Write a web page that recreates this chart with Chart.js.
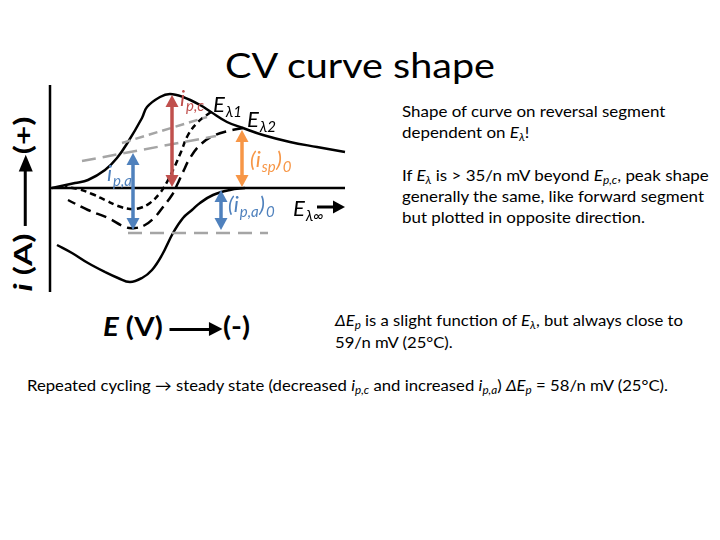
<!DOCTYPE html>
<html><head><meta charset="utf-8">
<script src="https://cdn.jsdelivr.net/npm/chart.js@4/dist/chart.umd.min.js"></script>
<style>
html,body{margin:0;padding:0;background:#fff;}
body{width:720px;height:540px;position:relative;overflow:hidden;font-family:Lato,"Open Sans",sans-serif;color:#000;}
.t{position:absolute;white-space:nowrap;display:inline-block;transform-origin:0 50%;line-height:1;}
sub{font-size:70%;vertical-align:baseline;position:relative;top:0.3em;}
.bm{display:inline-block;width:0;height:0;vertical-align:baseline;}
.arr{display:inline-block;height:3px;background:#000;position:relative;vertical-align:middle;}
.arr::after{content:'';position:absolute;right:-11px;top:-5.5px;border-left:12px solid #000;border-top:7px solid transparent;border-bottom:7px solid transparent;}
#canvasWrap{position:absolute;left:40px;top:75px;width:315px;height:227px;}
</style></head><body>

<div class="t" id="title" style="left:225px;top:45px;font-size:34px;" data-w="270" data-b="78">CV curve shape</div>

<div class="t" id="ylab" style="font-size:24px;font-weight:bold;transform-origin:50% 50%;"><i>i</i> (A) <span class="arr" style="width:40px;margin-right:11px;"></span>(+)</div>

<div class="t" style="left:103px;top:310px;font-size:26px;font-weight:bold;" data-w="147" data-b="336"><i>E</i> (V) <span class="arr" style="width:36px;margin-right:11px;"></span>(-)</div>

<div class="t" style="left:402px;top:100px;font-size:15px;" data-g="r" data-b="117">Shape of curve on reversal segment</div>
<div class="t" style="left:402px;top:120px;font-size:15px;" data-g="r" data-b="138">dependent on <i>E</i><sub><i>λ</i></sub>!</div>
<div class="t" style="left:402px;top:168px;font-size:15px;" data-g="r" data-b="181">If <i>E</i><sub><i>λ</i></sub> is &gt; 35/n mV beyond <i>E</i><sub><i>p,c</i></sub>, peak shape</div>
<div class="t" style="left:402px;top:188px;font-size:15px;" data-g="r" data-w="302" data-b="202">generally the same, like forward segment</div>
<div class="t" style="left:402px;top:208px;font-size:15px;" data-g="r" data-b="223">but plotted in opposite direction.</div>

<div class="t" style="left:335px;top:312px;font-size:15px;" data-g="d" data-w="348" data-b="326"><i>ΔE</i><sub><i>p</i></sub> is a slight function of <i>E</i><sub><i>λ</i></sub>, but always close to</div>
<div class="t" style="left:335px;top:334px;font-size:15px;" data-g="d" data-b="348">59/n mV (25°C).</div>

<div class="t" style="left:27px;top:377px;font-size:15px;" data-w="641" data-b="391">Repeated cycling → steady state (decreased <i>i</i><sub><i>p,c</i></sub> and increased <i>i</i><sub><i>p,a</i></sub>) <i>ΔE</i><sub><i>p</i></sub> = 58/n mV (25°C).</div>

<div id="canvasWrap"><canvas id="c" width="315" height="227"></canvas></div>

<script>
// ---- data (E in arbitrary potential units, i in arbitrary current units) ----
const E_forward = [2, 25, 38, 55, 67, 78, 92, 97, 110, 120, 133, 150, 161, 177, 193, 213, 240, 267, 295];
const i_forward = [0, 5, 8, 18, 30, 46, 70, 81, 91, 94, 91, 83, 76, 66, 60, 53, 46, 41, 36];

const E_rev1 = [161, 148, 138, 131, 124, 117, 110, 100, 90, 80, 68, 55, 42, 28, 15];
const i_rev1 = [76, 66, 53, 36, 20, 6, -5, -15, -20, -21, -18, -12, -6, -1, 1];

const E_rev2 = [193, 178, 163, 150, 140, 133, 127, 122, 113, 105, 95, 85, 75, 58, 38, 18];
const i_rev2 = [60, 57, 52, 43, 30, 16, 3, -7, -19, -29, -37, -40, -39, -30, -22, -12];

const E_revInf = [195, 180, 163, 150, 142, 133, 123, 112, 102, 92, 80, 68, 55, 38, 22, 7];
const i_revInf = [0, -2, -7, -15, -22, -30, -45, -67, -82, -90, -94, -90, -84, -75, -65, -57];

const E_base1 = [72, 157], i_base1 = [45, 71];
const E_base2 = [32, 166], i_base2 = [27, 52];
const E_base3 = [78, 218], i_base3 = [-45, -45];

const E_axisV = [0, 0],   i_axisV = [103, -104];
const E_axisH = [0, 295], i_axisH = [0, 0];

// peak-current arrows: i_p,c , i_p,a , (i_sp)0 , (i_p,a)0
const arrowE    = [122, 83, 192, 171];
const arrowFrom = [1, 35, 1, -2];
const arrowTo   = [93, -42, 58, -42];

// scan direction arrow for E_lambda-infinity
const E_scan = [267, 295], i_scan = [-19, -19];

const pts = (xs, ys) => xs.map((v, k) => ({x: v, y: ys[k]}));

function line(data, color, dash, width, tension) {
  return {data, showLine: true, borderColor: color, borderWidth: width, borderDash: dash,
          pointRadius: 0, fill: false, tension: tension, clip: false, borderCapStyle: 'butt'};
}

function drawArrow(ctx, x1, y1, x2, y2, both, color, lw, hl, hw) {
  const a = Math.atan2(y2 - y1, x2 - x1), c = Math.cos(a), s = Math.sin(a);
  const sx = both ? x1 + c * hl * 0.8 : x1, sy = both ? y1 + s * hl * 0.8 : y1;
  const ex = x2 - c * hl * 0.8, ey = y2 - s * hl * 0.8;
  ctx.strokeStyle = color; ctx.fillStyle = color; ctx.lineWidth = lw; ctx.setLineDash([]);
  ctx.beginPath(); ctx.moveTo(sx, sy); ctx.lineTo(ex, ey); ctx.stroke();
  const head = (hx, hy, dc, ds) => {
    ctx.beginPath();
    ctx.moveTo(hx, hy);
    ctx.lineTo(hx - dc * hl - ds * hw, hy - ds * hl + dc * hw);
    ctx.lineTo(hx - dc * hl + ds * hw, hy - ds * hl - dc * hw);
    ctx.closePath(); ctx.fill();
  };
  head(x2, y2, c, s);
  if (both) head(x1, y1, -c, -s);
}

function drawRuns(ctx, x, y, runs, color) {
  ctx.fillStyle = color; ctx.textBaseline = 'alphabetic'; ctx.textAlign = 'left';
  let cx = x;
  runs.forEach(r => {
    ctx.font = r[1] ? 'italic 15px Lato, sans-serif' : 'italic 22px Lato, sans-serif';
    ctx.fillText(r[0], cx, y + (r[1] ? 5 : 0));
    cx += ctx.measureText(r[0]).width + (r[1] ? 0.5 : 1);
  });
}

const overlay = {
  id: 'overlay',
  afterDatasetsDraw(chart, args, opts) {
    const {ctx} = chart, xs = chart.scales.x, ys = chart.scales.y;
    ctx.save();
    arrowE.forEach((e, k) => {
      const px = xs.getPixelForValue(e);
      drawArrow(ctx, px, ys.getPixelForValue(arrowFrom[k]), px, ys.getPixelForValue(arrowTo[k]),
                true, opts.arrowColors[k], 3.5, 12, 6.5);
    });
    drawArrow(ctx, xs.getPixelForValue(E_scan[0]), ys.getPixelForValue(i_scan[0]),
              xs.getPixelForValue(E_scan[1]), ys.getPixelForValue(i_scan[1]), false, '#000', 3, 12, 6.5);
    opts.labels.forEach(l => drawRuns(ctx, xs.getPixelForValue(l.x), ys.getPixelForValue(l.y), l.runs, l.color));
    ctx.restore();
  }
};

const RED = '#c0504d', BLUE = '#4f81bd', ORANGE = '#f79646', GRAY = '#a5a5a5';

new Chart(document.getElementById('c'), {
  type: 'scatter',
  data: {
    datasets: [
      line(pts(E_base1, i_base1), GRAY, [9, 5], 2.5, 0),
      line(pts(E_base2, i_base2), GRAY, [14, 7], 2.5, 0),
      line(pts(E_base3, i_base3), GRAY, [14, 8], 2.5, 0),
      line(pts(E_axisV, i_axisV), '#000', [], 2.5, 0),
      line(pts(E_axisH, i_axisH), '#000', [], 2.5, 0),
      line(pts(E_forward, i_forward), '#000', [], 2.5, 0.4),
      line(pts(E_revInf, i_revInf), '#000', [], 2.5, 0.4),
      line(pts(E_rev1, i_rev1), '#000', [6, 4], 2.5, 0.4),
      line(pts(E_rev2, i_rev2), '#000', [11, 6], 2.5, 0.4)
    ]
  },
  options: {
    responsive: false, animation: false, events: [],
    layout: {padding: 10},
    scales: {
      x: {type: 'linear', min: 0, max: 295, display: false},
      y: {type: 'linear', min: -104, max: 103, display: false}
    },
    plugins: {
      legend: {display: false}, tooltip: {enabled: false},
      overlay: {
        arrowColors: [RED, BLUE, ORANGE, BLUE],
        labels: [
          {x: 130, y: 82, color: RED, runs: [['i', 0], ['p,c', 1]]},
          {x: 57, y: 7, color: BLUE, runs: [['i', 0], ['p,a', 1]]},
          {x: 163, y: 76, color: '#000', runs: [['E', 0], ['λ1', 1]]},
          {x: 197, y: 61, color: '#000', runs: [['E', 0], ['λ2', 1]]},
          {x: 200, y: 21, color: ORANGE, runs: [['(i', 0], ['sp', 1], [')', 0], ['0', 1]]},
          {x: 178, y: -24, color: BLUE, runs: [['(i', 0], ['p,a', 1], [')', 0], ['0', 1]]},
          {x: 243, y: -28, color: '#000', runs: [['E', 0], ['λ∞', 1]]}
        ]
      }
    }
  },
  plugins: [overlay]
});

// ---- text layout: width fitting and baseline placement ----
function layoutText() {
  const groups = {};
  document.querySelectorAll('.t[data-b]').forEach(el => {
    el.style.transform = 'none';
  });
  document.querySelectorAll('.t[data-w]').forEach(el => {
    const w = el.getBoundingClientRect().width;
    const k = parseFloat(el.dataset.w) / w;
    el._k = k;
    if (el.dataset.g) groups[el.dataset.g] = k;
  });
  document.querySelectorAll('.t[data-b]').forEach(el => {
    let k = el._k || (el.dataset.g ? groups[el.dataset.g] : 1) || 1;
    let m = el.querySelector('.bm');
    if (!m) { m = document.createElement('span'); m.className = 'bm'; el.appendChild(m); }
    const by = m.getBoundingClientRect().bottom;
    const top = parseFloat(el.style.top);
    el.style.top = (top + parseFloat(el.dataset.b) - by) + 'px';
    el.style.transform = 'scaleX(' + k + ')';
  });
  // rotated current-axis label
  const yl = document.getElementById('ylab');
  yl.style.transform = 'none';
  const r = yl.getBoundingClientRect();
  const k = 175 / r.width;
  yl.style.left = (23 - r.width / 2) + 'px';
  yl.style.top = (204 - r.height / 2) + 'px';
  yl.style.transform = 'rotate(-90deg) scaleX(' + k + ')';
}
layoutText();
if (document.fonts && document.fonts.ready) document.fonts.ready.then(layoutText);
</script>
</body></html>
